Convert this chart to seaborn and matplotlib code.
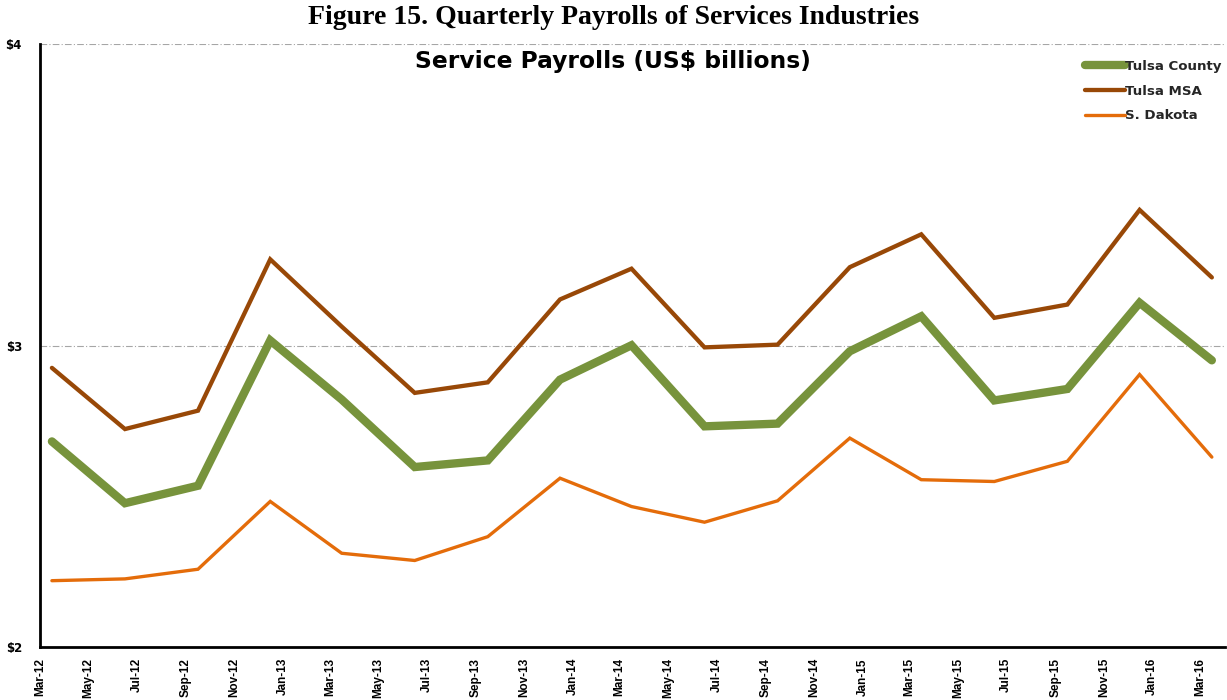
import matplotlib
matplotlib.use("Agg")
import matplotlib.pyplot as plt
import matplotlib.dates as mdates
import pandas as pd
import seaborn as sns

# Quarterly service payrolls, US$ billions
quarters = [
    "2012-03", "2012-06", "2012-09", "2012-12",
    "2013-03", "2013-06", "2013-09", "2013-12",
    "2014-03", "2014-06", "2014-09", "2014-12",
    "2015-03", "2015-06", "2015-09", "2015-12",
    "2016-03",
]
tulsa_county = [2.682, 2.477, 2.535, 3.017, 2.821, 2.597, 2.619, 2.887, 3.001,
                2.732, 2.741, 2.981, 3.097, 2.818, 2.856, 3.142, 2.951]
tulsa_msa = [2.926, 2.723, 2.784, 3.286, 3.063, 2.843, 2.878, 3.153, 3.255,
             2.994, 3.003, 3.260, 3.369, 3.092, 3.136, 3.450, 3.226]
s_dakota = [2.220, 2.226, 2.258, 2.483, 2.311, 2.287, 2.366, 2.560, 2.466,
            2.414, 2.485, 2.693, 2.555, 2.549, 2.616, 2.904, 2.630]

series_names = ["Tulsa County", "Tulsa MSA", "S. Dakota"]
series_colors = ["#77933C", "#984807", "#E46C0A"]
series_widths = [6.0, 3.1, 2.4]

# Each quarter's value is plotted in the middle of its month slot
dates = pd.to_datetime(quarters) + pd.Timedelta(days=15)
df = pd.DataFrame({"date": dates,
                   "Tulsa County": tulsa_county,
                   "Tulsa MSA": tulsa_msa,
                   "S. Dakota": s_dakota})
long_df = df.melt(id_vars="date", var_name="series", value_name="payroll")

sns.set_theme(style="white")
plt.rcParams["font.family"] = ["DejaVu Sans"]

fig = plt.figure(figsize=(12.27, 7.0), dpi=100)
ax = fig.add_axes([0.0326, 0.0757, 0.9654, 0.8613])

for name, color, lw in zip(series_names, series_colors, series_widths):
    sns.lineplot(data=long_df[long_df["series"] == name], x="date", y="payroll",
                 color=color, linewidth=lw, label=name, ax=ax,
                 solid_capstyle="round", solid_joinstyle="miter")

ax.set_ylim(2, 4)
ax.set_yticks([2, 3, 4])
ax.set_yticklabels(["$2", "$3", "$4"])
ax.set_xlim(pd.Timestamp("2012-03-01"), pd.Timestamp("2016-04-01"))
ax.xaxis.set_major_locator(mdates.MonthLocator(bymonth=[1, 3, 5, 7, 9, 11]))
ax.xaxis.set_major_formatter(mdates.DateFormatter("%b-%y"))
ax.set_xlabel("")
ax.set_ylabel("")

ax.grid(axis="y", color="#A6A6A6", linestyle=(0, (6, 2, 1, 2)), linewidth=0.8)
ax.grid(axis="x", visible=False)
ax.set_axisbelow(True)

for side in ["top", "right"]:
    ax.spines[side].set_visible(False)
for side in ["left", "bottom"]:
    ax.spines[side].set_color("black")
    ax.spines[side].set_linewidth(2.0)

ax.tick_params(axis="x", which="major", direction="out", length=5, width=1.5,
               color="black", pad=3, labelsize=8.5, rotation=90)
ax.tick_params(axis="y", which="major", direction="out", length=5, width=1.5,
               color="black", pad=8, labelsize=8.5)
for lbl in ax.get_xticklabels():
    lbl.set_fontweight("bold")
    lbl.set_family("Liberation Sans")
    lbl.set_color("black")
for lbl in ax.get_yticklabels():
    lbl.set_fontweight("bold")
    lbl.set_color("black")

leg = ax.legend(loc="upper left", bbox_to_anchor=(0.882, 0.974), frameon=False,
                borderpad=0, borderaxespad=0,
                handlelength=3.0, handletextpad=0.0, labelspacing=0.88,
                prop={"weight": "bold", "size": 9.6})
for line in leg.get_lines():
    line.set_solid_capstyle("round")

ax.text(0.484, 0.99, "Service Payrolls (US$ billions)", transform=ax.transAxes,
        ha="center", va="top", fontsize=16.8, fontweight="bold", color="black")

fig.text(0.5, 0.975, "Figure 15. Quarterly Payrolls of Services Industries",
         ha="center", va="center", fontsize=20, fontweight="bold",
         family="Liberation Serif", color="black")

fig.savefig("out.png", dpi=100, facecolor="white")
